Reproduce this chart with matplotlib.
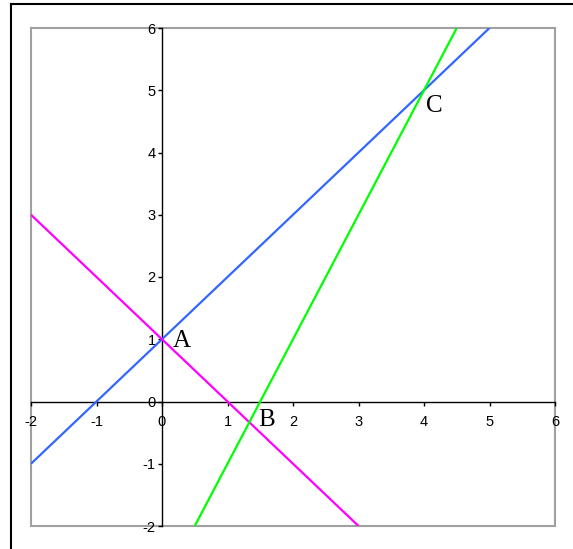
import matplotlib.pyplot as plt
from matplotlib.patches import Rectangle
from matplotlib.lines import Line2D

# line end points
blue_x = [-2, 5]
blue_y = [-1, 6]
magenta_x = [-2, 3]
magenta_y = [3, -2]
green_x = [0.5, 4.5]
green_y = [-2, 6]

x_ticks = [-2, -1, 0, 1, 2, 3, 4, 5, 6]
y_ticks = [-2, -1, 0, 1, 2, 3, 4, 5, 6]

points = ["A", "B", "C"]
point_xy = [(0.3, 0.97), (1.6, -0.3), (4.15, 4.75)]

plt.rcParams["font.family"] = ["Liberation Sans", "DejaVu Sans"]
plt.rcParams["axes.unicode_minus"] = False

fig = plt.figure(figsize=(5.73, 5.49), dpi=100)
ax = fig.add_axes([31 / 573, 1 - 526 / 549, 524 / 573, 498 / 549])

ax.plot(blue_x, blue_y, color="#3366ff", lw=1.6, solid_capstyle="butt")
ax.plot(magenta_x, magenta_y, color="#ff00ff", lw=1.6, solid_capstyle="butt")
ax.plot(green_x, green_y, color="#00ff00", lw=1.6, solid_capstyle="butt")

ax.set_xlim(-2, 6)
ax.set_ylim(-2, 6)
ax.set_xticks(x_ticks)
ax.set_yticks(y_ticks)

for s in ["top", "right"]:
    ax.spines[s].set_visible(False)
ax.spines["left"].set_position(("data", 0))
ax.spines["bottom"].set_position(("data", 0))
ax.spines["left"].set_linewidth(1.0)
ax.spines["bottom"].set_linewidth(1.0)
ax.spines["left"].set_zorder(1)
ax.spines["bottom"].set_zorder(1)

ax.tick_params(axis="both", direction="out", length=3, width=1, labelsize=10.5)
ax.tick_params(axis="x", pad=7)
ax.tick_params(axis="y", pad=1.5)

# gray frame around the plot area
ax.add_patch(Rectangle((0, 0), 1, 1, transform=ax.transAxes, fill=False,
                       edgecolor="#a0a0a0", lw=1.5, clip_on=False, zorder=0))

for name, (px, py) in zip(points, point_xy):
    ax.text(px, py, name, family="Liberation Serif", fontsize=18,
            ha="center", va="center")

# outer chart border (left and top only visible)
fig.add_artist(Line2D([10.5 / 573, 10.5 / 573], [0, 1 - 4 / 549],
                      transform=fig.transFigure, color="black", lw=1.5))
fig.add_artist(Line2D([10.5 / 573, 1], [1 - 4 / 549, 1 - 4 / 549],
                      transform=fig.transFigure, color="black", lw=1.5))

fig.savefig("out.png", dpi=100)
